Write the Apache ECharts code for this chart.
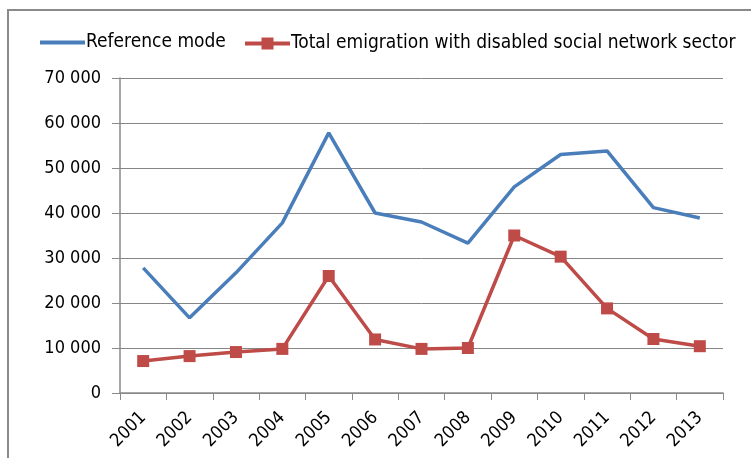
<!DOCTYPE html>
<html>
<head>
<meta charset="utf-8">
<script src="https://cdn.jsdelivr.net/npm/echarts@6/dist/echarts.min.js"></script>
<style>
html,body{margin:0;padding:0;background:#fff;}
#chart{width:751px;height:458px;}
</style>
</head>
<body>
<div id="chart"></div>
<script>
// Yearly emigration figures
const years = ['2001','2002','2003','2004','2005','2006','2007','2008','2009','2010','2011','2012','2013'];
const referenceMode = [27800, 16700, 26700, 37800, 57800, 40000, 38000, 33300, 45800, 53000, 53800, 41200, 38900];
const disabledSocialNetwork = [7100, 8200, 9100, 9800, 26000, 11900, 9800, 10000, 35000, 30300, 18800, 12000, 10400];
const yTicks = { min: 0, max: 70000, interval: 10000 };

const legendFont = '"Liberation Sans Narrow", "DejaVu Sans Condensed", sans-serif';
const axisFont = '"DejaVu Sans Condensed", "Liberation Sans Narrow", sans-serif';
const chart = echarts.init(document.getElementById('chart'), null, { renderer: 'canvas' });

const fmt = v => String(v).replace(/\B(?=(\d{3})+(?!\d))/g, ' ');
const legendText = { fontFamily: legendFont, fontSize: 19, color: '#000', padding: [0, 0, 0, -4] };

chart.setOption({
  animation: false,
  backgroundColor: '#fff',
  graphic: [{
    type: 'rect',
    shape: { x: 8, y: 10, width: 800, height: 500 },
    style: { fill: 'none', stroke: '#8a8a8a', lineWidth: 2 },
    silent: true
  }],
  legend: [{
    left: 35,
    top: 28,
    itemWidth: 45,
    itemHeight: 4,
    icon: 'rect',
    textStyle: legendText,
    data: ['Reference mode']
  }, {
    left: 238,
    top: 29,
    itemWidth: 45,
    itemHeight: 15,
    lineStyle: { width: 4 },
    textStyle: legendText,
    data: ['Total emigration with disabled social network sector']
  }],
  grid: { left: 120, right: 28, top: 78, bottom: 65 },
  xAxis: {
    type: 'category',
    data: years,
    boundaryGap: true,
    axisLine: { lineStyle: { color: '#8a8a8a', width: 1.5 } },
    axisTick: { show: true, length: 7, lineStyle: { color: '#8a8a8a' } },
    axisLabel: { rotate: 45, fontFamily: axisFont, fontSize: 18, color: '#000', margin: 22 }
  },
  yAxis: {
    type: 'value',
    min: yTicks.min, max: yTicks.max, interval: yTicks.interval,
    axisLine: { show: true, lineStyle: { color: '#8a8a8a', width: 1.5 } },
    axisTick: { show: true, length: 8, lineStyle: { color: '#8a8a8a' } },
    splitLine: { lineStyle: { color: '#868686', width: 1 } },
    axisLabel: { fontFamily: axisFont, fontSize: 18, color: '#000', margin: 19, formatter: fmt }
  },
  series: [{
    name: 'Reference mode',
    type: 'line',
    data: referenceMode,
    symbol: 'none',
    lineStyle: { color: '#4a7ebb', width: 3.5 },
    itemStyle: { color: '#4a7ebb' }
  }, {
    name: 'Total emigration with disabled social network sector',
    type: 'line',
    data: disabledSocialNetwork,
    symbol: 'rect',
    symbolSize: 12,
    lineStyle: { color: '#be4b48', width: 3.5 },
    itemStyle: { color: '#be4b48' }
  }]
});
</script>
</body>
</html>
